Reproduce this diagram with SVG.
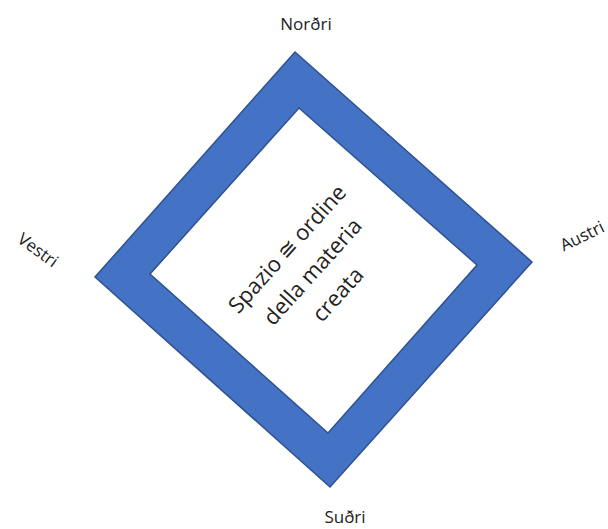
<svg xmlns="http://www.w3.org/2000/svg" width="608" height="529" viewBox="0 0 608 529">
<style>
.lbl{font-family:"Open Sans","Liberation Sans",sans-serif;font-size:17px;fill:#222;text-anchor:middle}
.mid{font-family:"Open Sans","Liberation Sans",sans-serif;font-size:22px;fill:#222;text-anchor:middle}
.frame{fill:#4472C4;stroke:#2F528F;stroke-width:1.5;fill-rule:evenodd}
</style>
<rect width="608" height="529" fill="#fff"/>
<g id="frame">
<path class="frame" d="M295,52 L532,262 L330,487 L95,277 Z M299,108 L150,274 L328,433 L477,265 Z"/>
</g>
<g id="center">
<g transform="translate(313,272) rotate(-48)">
<text class="mid" x="0" y="-27">Spazio ≅ ordine</text>
<text class="mid" x="0" y="7">della materia</text>
<text class="mid" x="0" y="41">creata</text>
</g>
</g>
<g id="nordri"><text class="lbl" x="306" y="30">Norðri</text></g>
<g id="sudri"><text class="lbl" x="345" y="523">Suðri</text></g>
<g id="vestri"><text class="lbl" transform="translate(38,250) rotate(36)" x="0" y="6">Vestri</text></g>
<g id="austri"><text class="lbl" transform="translate(582,236) rotate(-26)" x="0" y="6">Austri</text></g>
<g id="connectors"/>
</svg>
